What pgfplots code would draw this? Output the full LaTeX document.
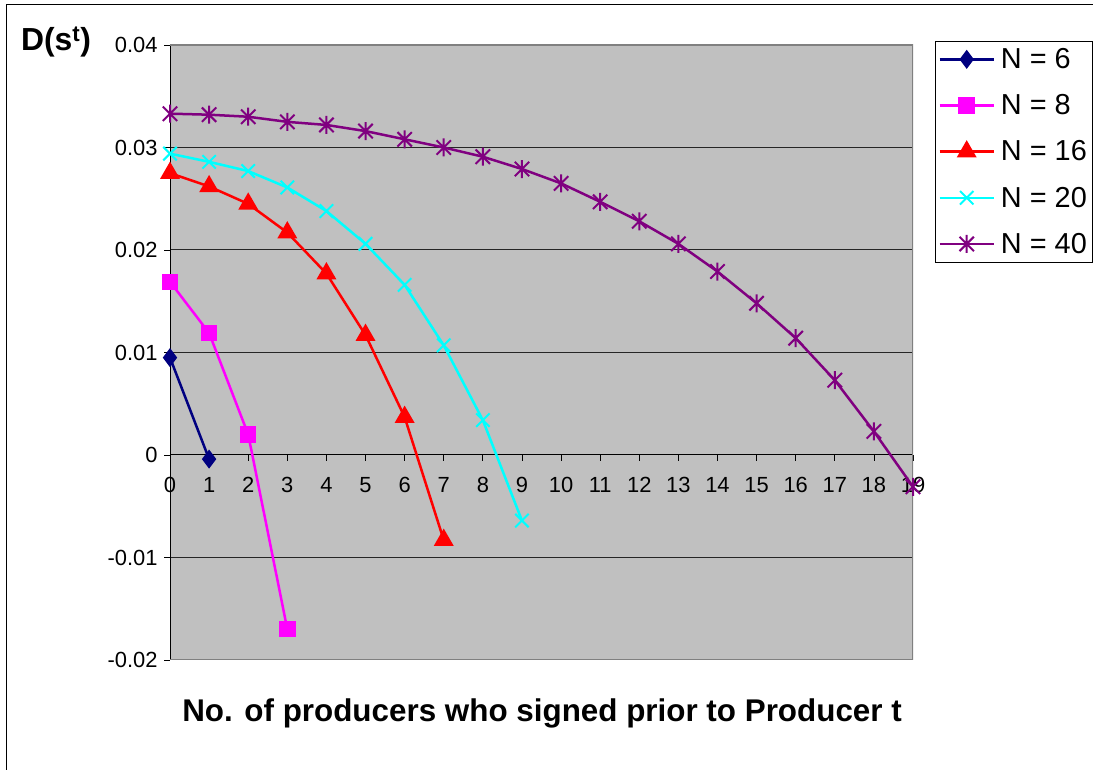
\documentclass[border=0pt]{standalone}
\usepackage{pgfplots}
\pgfplotsset{compat=1.18}
\usepackage{fontspec}
\setmainfont{Liberation Sans}
\definecolor{bgc}{RGB}{192,192,192}
\definecolor{bordc}{RGB}{128,128,128}
\definecolor{cnavy}{RGB}{0,0,128}
\definecolor{cmag}{RGB}{255,0,255}
\definecolor{cred}{RGB}{255,0,0}
\definecolor{ccyan}{RGB}{0,255,255}
\definecolor{cpurp}{RGB}{128,0,128}
\pgfdeclareplotmark{xstar}{%
  \pgfpathmoveto{\pgfqpoint{-.8\pgfplotmarksize}{-.8\pgfplotmarksize}}%
  \pgfpathlineto{\pgfqpoint{.8\pgfplotmarksize}{.8\pgfplotmarksize}}%
  \pgfpathmoveto{\pgfqpoint{-.8\pgfplotmarksize}{.8\pgfplotmarksize}}%
  \pgfpathlineto{\pgfqpoint{.8\pgfplotmarksize}{-.8\pgfplotmarksize}}%
  \pgfpathmoveto{\pgfqpoint{0pt}{-\pgfplotmarksize}}%
  \pgfpathlineto{\pgfqpoint{0pt}{\pgfplotmarksize}}%
  \pgfusepathqstroke}
\begin{document}
\begin{tikzpicture}
\useasboundingbox (0,0) rectangle (1093bp,770bp);
\draw[black, line width=1bp] (6bp,0) -- (6bp,765bp) -- (1093bp,765bp);
\begin{axis}[
  at={(170bp,110bp)}, anchor=south west,
  scale only axis, width=743bp, height=615bp,
  xmin=0, xmax=19, ymin=-0.02, ymax=0.04,
  axis x line*=middle, axis y line*=left,
  hide obscured x ticks=false, hide obscured y ticks=false,
  x axis line style={-, black, line width=1bp},
  y axis line style={-, black, line width=1bp},
  xtick={0,...,19},
  ytick={-0.02,-0.01,0,0.01,0.02,0.03,0.04},
  yticklabels={-0.02,-0.01,0,0.01,0.02,0.03,0.04},
  scaled y ticks=false,
  tick align=outside,
  major tick length=6bp,
  tick style={black, line width=0.8bp},
  ymajorgrids, grid style={black!85, line width=1bp},
  axis background/.style={fill=bgc},
  /pgf/number format/assume math mode=true,
  ticklabel style={font=\fontsize{22}{26}\selectfont},
  xticklabel style={yshift=-13bp},
  yticklabel style={xshift=-3bp},
  legend style={at={(1.241,1.006)}, anchor=north east, draw=black, fill=white,
    font=\fontsize{29}{34}\selectfont, row sep=20.5bp,
    inner xsep=3bp, inner ysep=5bp,
    /tikz/every odd column/.append style={column sep=4bp}},
  legend cell align=left,
  legend image code/.code={\draw[mark repeat=2,mark phase=2] plot coordinates {(0bp,0bp) (27bp,0bp) (54bp,0bp)};},
]
\draw[bordc, line width=2bp] (rel axis cs:0,1) -- (rel axis cs:1,1) -- (rel axis cs:1,0) -- (rel axis cs:0,0);
\addplot[cnavy, line width=2.5bp, mark=diamond*, mark size=7.5bp, mark options={solid, fill=cnavy}]
  coordinates {(0,0.0095) (1,-0.0004)};
\addlegendentry{N = 6}
\addplot[cmag, line width=2.5bp, mark=square*, mark size=7bp, mark options={solid, fill=cmag}]
  coordinates {(0,0.0169) (1,0.0119) (2,0.0020) (3,-0.0170)};
\addlegendentry{N = 8}
\addplot[cred, line width=2.5bp, mark=triangle*, mark size=9bp, mark options={solid, fill=cred}]
  coordinates {(0,0.0275) (1,0.0262) (2,0.0245) (3,0.0217) (4,0.0177) (5,0.0117) (6,0.0037) (7,-0.0083)};
\addlegendentry{N = 16}
\addplot[ccyan, line width=2.5bp, mark=x, mark size=9.5bp, mark options={solid, line width=2bp}]
  coordinates {(0,0.0294) (1,0.0286) (2,0.0277) (3,0.0261) (4,0.0238) (5,0.0206) (6,0.0166) (7,0.0107) (8,0.0034) (9,-0.0064)};
\addlegendentry{N = 20}
\addplot[cpurp, line width=2.5bp, mark=xstar, mark size=9bp, mark options={solid, line width=2bp}]
  coordinates {(0,0.0333) (1,0.0332) (2,0.0330) (3,0.0325) (4,0.0322) (5,0.0316) (6,0.0308) (7,0.0300) (8,0.0291) (9,0.0279) (10,0.0265) (11,0.0247) (12,0.0228) (13,0.0206) (14,0.0179) (15,0.0148) (16,0.0114) (17,0.0073) (18,0.0023) (19,-0.0031)};
\addlegendentry{N = 40}
\end{axis}
\node[font=\bfseries\fontsize{31.5}{36}\selectfont] at (542bp,57bp) {No. of producers who signed prior to Producer t};
\node[font=\bfseries\fontsize{32}{38}\selectfont] at (56bp,728bp) {D(s\textsuperscript{t})};
\end{tikzpicture}
\end{document}
